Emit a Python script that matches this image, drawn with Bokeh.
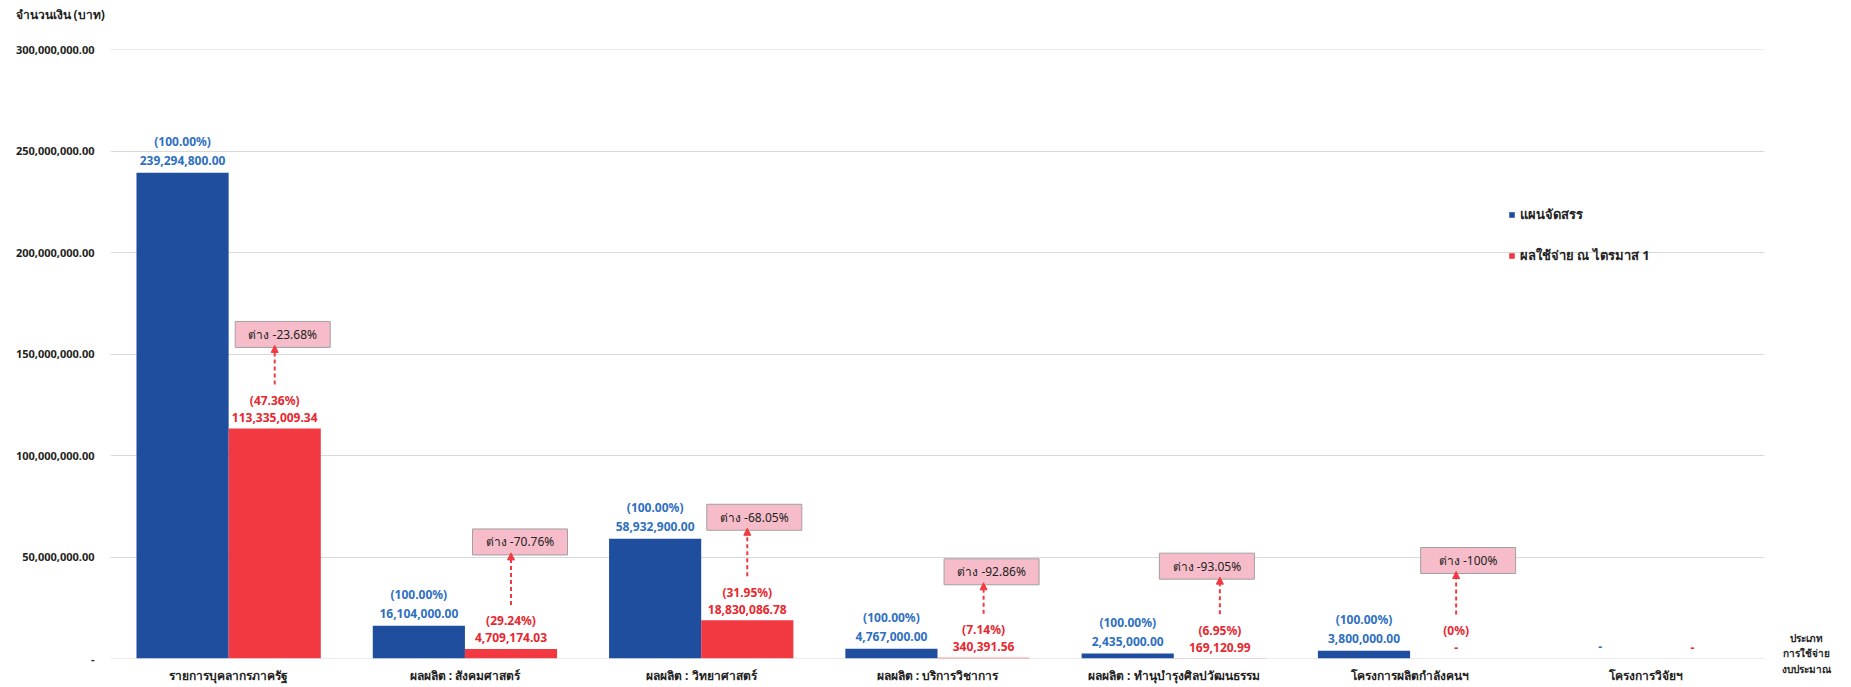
from bokeh.plotting import figure
from bokeh.models import (FactorRange, Range1d, ColumnDataSource, Label, Arrow,
                          NormalHead, Legend, LegendItem, NumeralTickFormatter, FixedTicker)
from bokeh.transform import dodge
from bokeh.core.properties import value
from bokeh.embed import file_html
from bokeh.resources import INLINE

# ---------------- data ----------------
categories = ["รายการบุคลากรภาครัฐ", "ผลผลิต : สังคมศาสตร์", "ผลผลิต : วิทยาศาสตร์",
              "ผลผลิต : บริการวิชาการ", "ผลผลิต : ทำนุบำรุงศิลปวัฒนธรรม",
              "โครงการผลิตกำลังคนฯ", "โครงการวิจัยฯ"]
plan = [239294800.00, 16104000.00, 58932900.00, 4767000.00, 2435000.00, 3800000.00, 0.0]
spent = [113335009.34, 4709174.03, 18830086.78, 340391.56, 169120.99, 0.0, 0.0]
plan_pct = ["(100.00%)", "(100.00%)", "(100.00%)", "(100.00%)", "(100.00%)", "(100.00%)", ""]
spent_pct = ["(47.36%)", "(29.24%)", "(31.95%)", "(7.14%)", "(6.95%)", "(0%)", ""]
diff_labels = ["ต่าง -23.68%", "ต่าง -70.76%", "ต่าง -68.05%", "ต่าง -92.86%",
               "ต่าง -93.05%", "ต่าง -100%"]
y_ticks = [0, 50000000, 100000000, 150000000, 200000000, 250000000, 300000000]
series_names = ["แผนจัดสรร", "ผลใช้จ่าย ณ ไตรมาส 1"]
y_title = "จำนวนเงิน (บาท)"
x_title = "ประเภท\nการใช้จ่าย\nงบประมาณ"

# ---------------- layout / style ----------------
FONT = "Noto Sans"
BLUE = "#1F4E9E"
RED = "#F23840"
BLUE_TXT = "#2E6FC0"
RED_TXT = "#E8262E"
FW, FH = 1654, 609
BL, BT, BR, BB = 110, 49, 79, 25
Y_MAX = 300000000
UPP = Y_MAX / FH  # data units per pixel
BAR_W = 0.39
DX = 0.195
box_gap_px = [81, 94, 90, 73, 79, 85]
box_dx_px = [8, 9, 7, 8, -13, 12]


def money(v):
    return "-" if v == 0 else f"{v:,.2f}"


src = ColumnDataSource(dict(
    cat=categories, plan=plan, spent=spent,
    plan_lbl=[money(v) for v in plan], spent_lbl=[money(v) for v in spent],
    plan_pct=plan_pct, spent_pct=spent_pct,
))

# a tiny pad keeps the grid lines at 0 and at the top tick visible
p = figure(x_range=FactorRange(*categories, range_padding=0), y_range=Range1d(-1, Y_MAX + 1),
           frame_width=FW, frame_height=FH, output_backend="svg", toolbar_location=None,
           min_border_left=BL, min_border_top=BT, min_border_bottom=BB, min_border_right=BR)
p.outline_line_color = None
p.background_fill_color = "white"
p.border_fill_color = "white"

rb = p.vbar(x=dodge("cat", -DX, range=p.x_range), top="plan", width=BAR_W, source=src,
            fill_color=BLUE, line_color=None)
rr = p.vbar(x=dodge("cat", DX, range=p.x_range), top="spent", width=BAR_W, source=src,
            fill_color=RED, line_color=None)

txt = dict(text_font=value(FONT), text_font_style="bold", text_font_size="12px",
           text_align="center", text_baseline="middle", source=src)
p.text(x=dodge("cat", -DX, range=p.x_range), y="plan", text="plan_lbl", y_offset=-12,
       text_color=BLUE_TXT, **txt)
p.text(x=dodge("cat", -DX, range=p.x_range), y="plan", text="plan_pct", y_offset=-31,
       text_color=BLUE_TXT, **txt)
p.text(x=dodge("cat", DX, range=p.x_range), y="spent", text="spent_lbl", y_offset=-11,
       text_color=RED_TXT, **txt)
p.text(x=dodge("cat", DX, range=p.x_range), y="spent", text="spent_pct", y_offset=-28,
       text_color=RED_TXT, **txt)

# difference boxes and arrows
n = len(diff_labels)
red_x = [i + 0.5 + DX for i in range(n)]
box_src = ColumnDataSource(dict(
    x=[red_x[i] + box_dx_px[i] / FW * len(categories) for i in range(n)],
    y=[spent[i] + (box_gap_px[i] + 13) * UPP for i in range(n)],
    text=diff_labels,
))
p.rect(x="x", y="y", width=95, height=26, width_units="screen", height_units="screen",
       source=box_src, fill_color="#F6BCC9", line_color="#A0A0A0", line_width=1)
p.text(x="x", y="y", text="text", source=box_src, text_font=value(FONT),
       text_font_size="12px", text_color="#222222", text_align="center",
       text_baseline="middle")

arrow_src = ColumnDataSource(dict(
    x0=red_x, x1=red_x,
    y0=[spent[i] + 44 * UPP for i in range(n)],
    y1=[spent[i] + (box_gap_px[i] + 2) * UPP for i in range(n)],
))
p.add_layout(Arrow(x_start="x0", y_start="y0", x_end="x1", y_end="y1", source=arrow_src,
                   line_color=RED, line_width=2, line_dash="4 3",
                   end=NormalHead(size=7, fill_color=RED, line_color=RED)))

# axes
p.yaxis.ticker = FixedTicker(ticks=y_ticks)
p.yaxis.formatter = NumeralTickFormatter(format="0,0.00")
p.yaxis.major_label_overrides = {0: "-"}
p.yaxis.axis_line_color = None
p.yaxis.major_tick_line_color = None
p.yaxis.minor_tick_line_color = None
p.yaxis.major_label_standoff = 10
p.yaxis.major_label_text_font = FONT
p.yaxis.major_label_text_font_style = "bold"
p.yaxis.major_label_text_font_size = "11px"
p.yaxis.major_label_text_color = "#222222"

p.xaxis.axis_line_color = None
p.xaxis.major_tick_line_color = None
p.xaxis.major_label_standoff = 2
p.xaxis.major_label_text_font = FONT
p.xaxis.major_label_text_font_style = "bold"
p.xaxis.major_label_text_font_size = "12px"
p.xaxis.major_label_text_color = "#222222"

p.xgrid.grid_line_color = None
p.ygrid.grid_line_color = "#D9D9D9"
p.ygrid.grid_line_width = 1

# titles placed in side panels (canvas coordinates) so they are not clipped to the frame
p.add_layout(Label(x=15, y=14, x_units="canvas", y_units="canvas", text=y_title,
                   text_font=FONT, text_font_style="bold", text_font_size="12px",
                   text_color="#222222", text_baseline="middle"), "above")
p.add_layout(Label(x=1806, y=653, x_units="canvas", y_units="canvas", text=x_title,
                   text_font=FONT, text_font_style="bold", text_font_size="10px",
                   text_color="#222222", text_baseline="middle", text_align="center",
                   text_line_height=1.1), "right")

legend = Legend(items=[LegendItem(label=series_names[0], renderers=[rb]),
                       LegendItem(label=series_names[1], renderers=[rr])],
                location=(1398, 392), glyph_width=7, glyph_height=7, label_standoff=5,
                spacing=20, padding=0, margin=0, border_line_color=None,
                background_fill_alpha=0, label_text_font=FONT,
                label_text_font_style="bold", label_text_font_size="13px",
                label_text_color="#222222")
p.add_layout(legend)

open("out.html", "w").write(file_html(p, INLINE))
